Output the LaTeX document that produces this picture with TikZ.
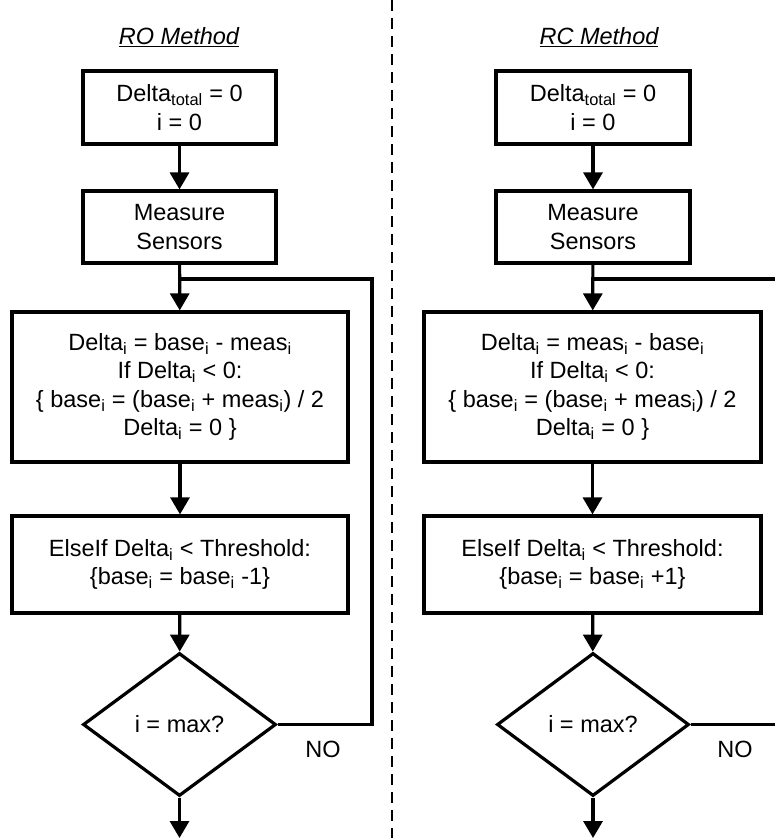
\documentclass[tikz,border=0pt]{standalone}
\usepackage{fontspec}
\setmainfont{Liberation Sans}
\usetikzlibrary{shapes.geometric,arrows.meta}
\newcommand{\sbs}[1]{\textsubscript{#1}}
\begin{document}
\begin{tikzpicture}[x=1pt,y=-1pt,
  every node/.style={font=\fontsize{23.5}{28.5}\selectfont},
  box/.style={draw,line width=3.2pt,align=center,inner sep=0pt},
  dec/.style={draw,diamond,line width=3.2pt,align=center,inner sep=0pt},
  flow/.style={line width=3.2pt,-{Triangle[width=19pt,length=17pt]}},
  plain/.style={line width=3.2pt},
  ttl/.style={font=\fontsize{23.5}{28}\selectfont\itshape},
  sep/.style={line width=1.6pt,dash pattern=on 11pt off 7pt}]
\useasboundingbox (0,0) rectangle (775,838);
% separator
\coordinate (st) at (392,0);
\coordinate (sb) at (392,838);
\draw[sep] (st) -- (sb);
% ---- left: RO method
\node[ttl] (t1) at (179,37) {\underline{RO Method}};
\node[box,minimum width=193pt,minimum height=73pt] (a1) at (179.5,107.5) {Delta\sbs{total} = 0\\i = 0};
\node[box,minimum width=193pt,minimum height=72pt] (a2) at (179.5,227) {Measure\\Sensors};
\node[box,minimum width=336pt,minimum height=150pt] (a3) at (180,387)
  {Delta\sbs{i} = base\sbs{i} - meas\sbs{i}\\If Delta\sbs{i} < 0:\\\{ base\sbs{i} = (base\sbs{i} + meas\sbs{i}) / 2\\Delta\sbs{i} = 0 \}};
\node[box,minimum width=336pt,minimum height=97pt] (a4) at (180,564.5)
  {ElseIf Delta\sbs{i} < Threshold:\\\{base\sbs{i} = base\sbs{i} -1\}};
\node[dec,minimum width=193pt,minimum height=143pt] (a5) at (179.5,724.5) {i = max?};
\node (n1) at (323,749) {NO};
\coordinate (aj) at (179.5,279);
\coordinate (ar) at (372,279);
\coordinate (ae) at (179.5,838);
\draw[flow] (a1) -- (a2);
\draw[flow] (a2) -- (a3);
\draw[flow] (a3) -- (a4);
\draw[flow] (a4) -- (a5);
\draw[flow] (a5) -- (ae);
\draw[plain] (a5.east) -| (ar) -- (aj);
% ---- right: RC method
\node[ttl] (t2) at (599,37) {\underline{RC Method}};
\node[box,minimum width=194pt,minimum height=73pt] (b1) at (593,107.5) {Delta\sbs{total} = 0\\i = 0};
\node[box,minimum width=194pt,minimum height=72pt] (b2) at (593,227) {Measure\\Sensors};
\node[box,minimum width=337pt,minimum height=150pt] (b3) at (592.5,387)
  {Delta\sbs{i} = meas\sbs{i} - base\sbs{i}\\If Delta\sbs{i} < 0:\\\{ base\sbs{i} = (base\sbs{i} + meas\sbs{i}) / 2\\Delta\sbs{i} = 0 \}};
\node[box,minimum width=337pt,minimum height=97pt] (b4) at (592.5,564.5)
  {ElseIf Delta\sbs{i} < Threshold:\\\{base\sbs{i} = base\sbs{i} +1\}};
\node[dec,minimum width=192pt,minimum height=143pt] (b5) at (593,724.5) {i = max?};
\node (n2) at (735,749) {NO};
\coordinate (bj) at (593,279);
\coordinate (br) at (775,279);
\coordinate (bd) at (775,724.5);
\coordinate (be) at (593,838);
\draw[flow] (b1) -- (b2);
\draw[flow] (b2) -- (b3);
\draw[flow] (b3) -- (b4);
\draw[flow] (b4) -- (b5);
\draw[flow] (b5) -- (be);
\draw[plain] (bj) -- (br);
\draw[plain] (b5.east) -- (bd);
\end{tikzpicture}
\end{document}
